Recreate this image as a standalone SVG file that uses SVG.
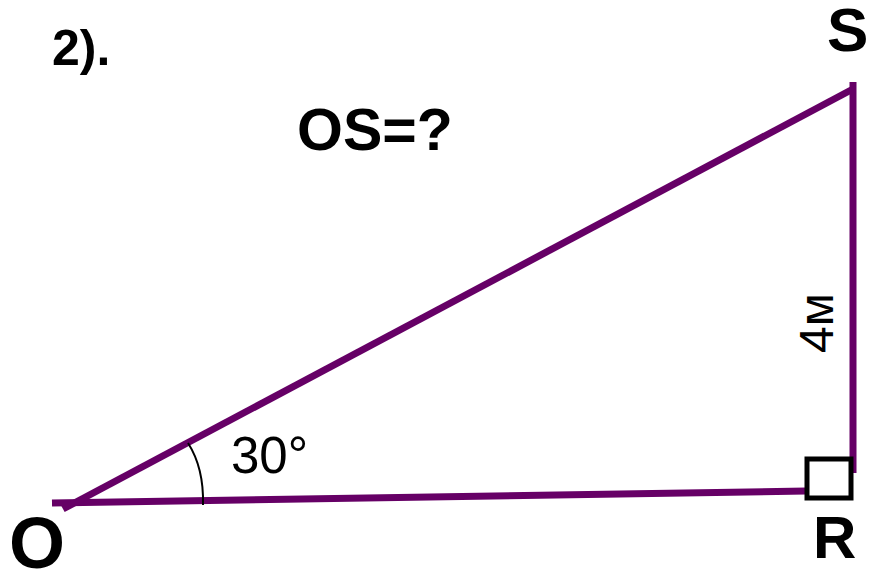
<svg xmlns="http://www.w3.org/2000/svg" width="877" height="572" viewBox="0 0 877 572">
<style>
.side{stroke:#660066;stroke-width:7;fill:none}
.b{font-family:"Liberation Sans",Arial,sans-serif;font-weight:bold;fill:#000}
.r{font-family:"Liberation Sans",Arial,sans-serif;fill:#000}
</style>
<rect width="877" height="572" fill="#fff"/>
<g id="connectors">
<line class="side" x1="52" y1="503" x2="806" y2="491"/>
<line class="side" x1="63" y1="509" x2="853" y2="89"/>
<line class="side" x1="853" y1="82" x2="853" y2="473"/>
<path d="M188,443 Q204,468 203,505" fill="none" stroke="#000" stroke-width="2"/>
</g>
<g id="rightangle"><rect x="807" y="459" width="44" height="39" fill="none" stroke="#000" stroke-width="5"/></g>
<g id="title"><text class="b" x="52" y="65" font-size="50">2).</text></g>
<g id="question"><text class="b" x="297" y="150" font-size="59">OS=?</text></g>
<g id="S"><text class="b" x="827" y="51" font-size="62">S</text></g>
<g id="O"><text class="b" x="9" y="568" font-size="72">O</text></g>
<g id="R"><text class="b" x="813" y="558" font-size="60">R</text></g>
<g id="angle"><text class="r" x="231" y="473" font-size="51">30°</text></g>
<g id="side-label"><text class="r" transform="translate(833,353) rotate(-90)" font-size="48">4м</text></g>
</svg>
